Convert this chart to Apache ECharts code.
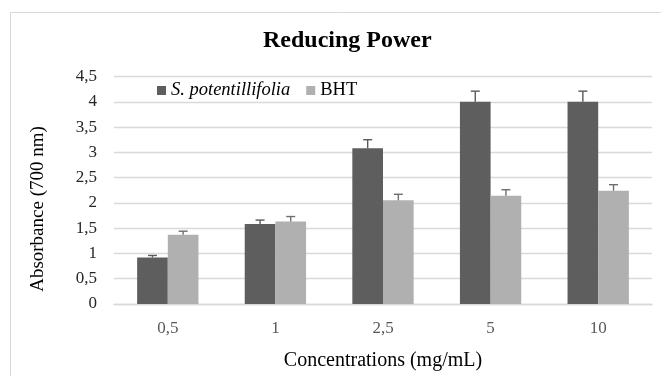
<!DOCTYPE html>
<html>
<head>
<meta charset="utf-8">
<script src="https://cdn.jsdelivr.net/npm/echarts@6/dist/echarts.min.js"></script>
<style>
html,body{margin:0;padding:0;background:#fff;}
#chart{width:661px;height:376px;}
</style>
</head>
<body>
<div id="chart"></div>
<script>
const categories = ['0,5', '1', '2,5', '5', '10'];
const spName = 'S. potentillifolia';
const bhtName = 'BHT';
const spValues = [0.92, 1.58, 3.08, 4.00, 4.00];
const spErrors = [0.04, 0.08, 0.17, 0.21, 0.21];
const bhtValues = [1.37, 1.63, 2.05, 2.14, 2.24];
const bhtErrors = [0.07, 0.10, 0.12, 0.12, 0.12];
const yTicks = ['0', '0,5', '1', '1,5', '2', '2,5', '3', '3,5', '4', '4,5'];

const FONT = 'Liberation Serif, Times New Roman, serif';
const CAT_GAP = 0.43;

function errorSeries(values, errors, side, color) {
  return {
    type: 'custom',
    silent: true,
    z: 5,
    data: values.map((v, i) => [i, v, errors[i]]),
    renderItem: function (params, api) {
      const idx = api.value(0);
      const val = api.value(1);
      const err = api.value(2);
      const bandW = api.size([1, 0])[0];
      const barW = bandW * (1 - CAT_GAP) / 2;
      const base = api.coord([idx, val]);
      const top = api.coord([idx, val + err]);
      const x = base[0] + side * barW / 2;
      const cap = 4.5;
      return {
        type: 'group',
        children: [
          { type: 'line', shape: { x1: x, y1: base[1], x2: x, y2: top[1] },
            style: { stroke: color, lineWidth: 1.4 } },
          { type: 'line', shape: { x1: x - cap, y1: top[1], x2: x + cap, y2: top[1] },
            style: { stroke: color, lineWidth: 1.4 } }
        ]
      };
    }
  };
}

const chart = echarts.init(document.getElementById('chart'));
chart.setOption({
  animation: false,
  backgroundColor: '#ffffff',
  textStyle: { fontFamily: FONT },
  title: {
    text: 'Reducing Power',
    left: 263,
    top: 29,
    padding: 0,
    textStyle: { fontFamily: FONT, fontSize: 24, fontWeight: 'bold', color: '#000' }
  },
  legend: {
    data: [spName, bhtName],
    left: 157,
    top: 81,
    padding: 0,
    itemWidth: 9,
    itemHeight: 9,
    itemGap: 16,
    icon: 'rect',
    formatter: function (name) {
      return name === spName ? '{i|' + name + '}' : '{n|' + name + '}';
    },
    textStyle: {
      fontFamily: FONT,
      fontSize: 18.5,
      color: '#000',
      rich: {
        i: { fontFamily: FONT, fontSize: 18.5, fontStyle: 'italic', color: '#000' },
        n: { fontFamily: FONT, fontSize: 18.5, color: '#000' }
      }
    }
  },
  grid: { left: 114, right: 9, top: 76.5, bottom: 70, containLabel: false },
  xAxis: {
    type: 'category',
    data: categories,
    axisLine: { show: true, lineStyle: { color: '#d9d9d9', width: 1.3 } },
    axisTick: { show: false },
    axisLabel: { fontFamily: FONT, fontSize: 17, color: '#595959', margin: 16 },
    name: 'Concentrations (mg/mL)',
    nameLocation: 'middle',
    nameGap: 47,
    nameTextStyle: { fontFamily: FONT, fontSize: 20, color: '#000' }
  },
  yAxis: {
    type: 'value',
    min: 0,
    max: 4.5,
    interval: 0.5,
    axisLine: { show: false },
    axisTick: { show: false },
    splitLine: { lineStyle: { color: '#d9d9d9', width: 1.3 } },
    axisLabel: {
      fontFamily: FONT, fontSize: 17, color: '#262626', margin: 17,
      formatter: function (v) { return yTicks[Math.round(v / 0.5)]; }
    }
  },
  graphic: [
    { type: 'polyline', silent: true,
      shape: { points: [[10.5, 420], [10.5, 12.5], [700, 12.5]] },
      style: { stroke: '#d9d9d9', lineWidth: 1, fill: null } },
    { type: 'text', silent: true, x: 38, y: 209, rotation: Math.PI / 2,
      style: { text: 'Absorbance (700 nm)', font: '19px ' + FONT, fill: '#000',
               align: 'center', verticalAlign: 'middle' } }
  ],
  series: [
    { name: spName, type: 'bar', data: spValues, barGap: '0%', barCategoryGap: '43%',
      itemStyle: { color: '#5e5e5e' } },
    { name: bhtName, type: 'bar', data: bhtValues, barGap: '0%', barCategoryGap: '43%',
      itemStyle: { color: '#b0b0b0' } },
    errorSeries(spValues, spErrors, -1, '#5a5a5a'),
    errorSeries(bhtValues, bhtErrors, 1, '#6e6e6e')
  ]
});
</script>
</body>
</html>
